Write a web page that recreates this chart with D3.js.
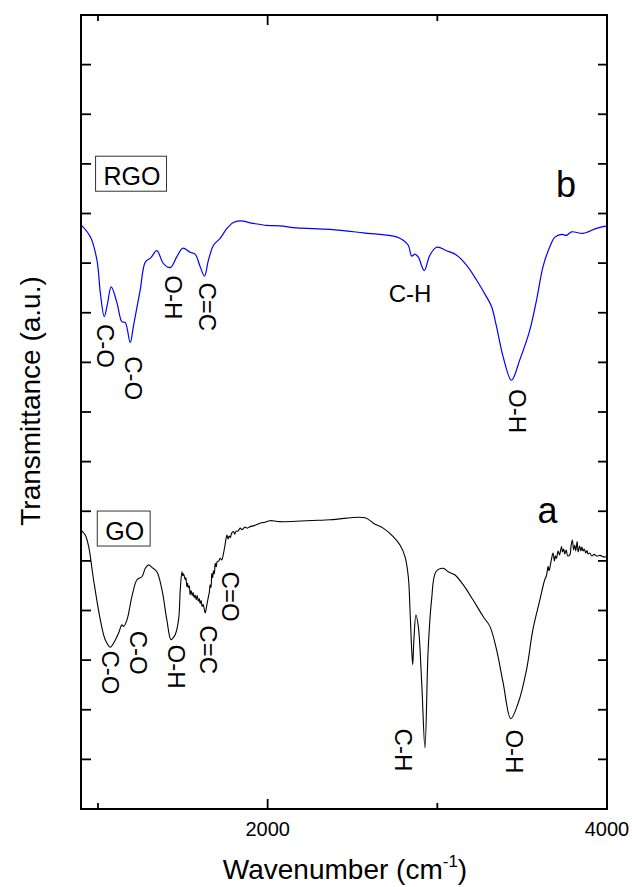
<html>
<head>
    <meta charset="utf-8" />
    <script src="https://cdn.jsdelivr.net/npm/d3@7"></script>
</head>
<style>
    body { margin: 0; background: #fff; }
    svg { font-family: "Liberation Sans", Arial, sans-serif; }
</style>
<body>
<svg id="chart" width="632" height="887"></svg>
<script>
    // spectra: [wavenumber, transmittance (a.u.)]
    var rgoSpectrum = [
        [900, 11.77], [955, 11.53], [994, 11.06], [1014, 10.40], [1037, 9.92], [1055, 10.16],
        [1078, 10.52], [1112, 10.20], [1141, 9.82], [1161, 9.80], [1190, 9.40], [1210, 9.75],
        [1249, 10.46], [1279, 11.02], [1312, 11.11], [1347, 11.25], [1386, 10.99], [1426, 10.91],
        [1465, 11.13], [1500, 11.30], [1543, 11.22], [1573, 11.18], [1602, 10.93], [1628, 10.74],
        [1651, 11.06], [1681, 11.36], [1720, 11.50], [1760, 11.70], [1798, 11.82], [1838, 11.85],
        [1916, 11.80], [1995, 11.76], [2073, 11.75], [2172, 11.71], [2368, 11.68], [2564, 11.61],
        [2760, 11.53], [2799, 11.46], [2829, 11.36], [2849, 11.14], [2868, 11.18], [2888, 11.12],
        [2923, 10.85], [2956, 11.16], [2996, 11.32], [3055, 11.25], [3114, 11.16], [3172, 10.96],
        [3231, 10.66], [3290, 10.32], [3320, 10.12], [3349, 9.72], [3388, 9.11], [3437, 8.64],
        [3486, 9.05], [3545, 9.65], [3585, 10.26], [3623, 10.93], [3663, 11.33], [3692, 11.52],
        [3732, 11.58], [3761, 11.56], [3791, 11.63], [3859, 11.60], [3938, 11.70], [4000, 11.75]
    ];

    var goSpectrum = [
        [900, 5.62], [925, 5.52], [945, 5.29], [974, 4.62], [1014, 3.81], [1043, 3.41],
        [1073, 3.26], [1092, 3.34], [1121, 3.54], [1141, 3.71], [1151, 3.68], [1171, 3.81],
        [1200, 4.28], [1230, 4.62], [1259, 4.68], [1279, 4.85], [1298, 4.92], [1318, 4.87],
        [1347, 4.78], [1377, 4.42], [1406, 3.81], [1430, 3.41], [1443, 3.45], [1455, 3.51],
        [1475, 3.81], [1485, 4.42], [1495, 4.78], [1500, 4.70], [1505, 4.74], [1514, 4.62],
        [1518, 4.66], [1524, 4.48], [1528, 4.55], [1532, 4.46], [1538, 4.50], [1543, 4.32],
        [1549, 4.40], [1555, 4.30], [1561, 4.36], [1567, 4.26], [1573, 4.31], [1579, 4.22],
        [1585, 4.30], [1591, 4.19], [1597, 4.24], [1602, 4.14], [1608, 4.20], [1614, 4.08],
        [1620, 4.12], [1632, 3.95], [1641, 4.10], [1651, 4.28], [1656, 4.36], [1661, 4.52],
        [1666, 4.46], [1671, 4.75], [1676, 4.66], [1681, 4.80], [1686, 4.74], [1691, 4.95],
        [1697, 4.88], [1702, 4.98], [1712, 5.00], [1720, 5.05], [1730, 5.02], [1738, 5.12],
        [1748, 5.30], [1760, 5.52], [1767, 5.44], [1773, 5.50], [1780, 5.47], [1788, 5.56],
        [1798, 5.59], [1806, 5.54], [1814, 5.60], [1826, 5.60], [1838, 5.66], [1850, 5.63],
        [1866, 5.68], [1880, 5.66], [1897, 5.69], [1920, 5.71], [1956, 5.76], [1985, 5.78],
        [2014, 5.81], [2073, 5.79], [2368, 5.83], [2574, 5.87], [2623, 5.76], [2681, 5.66],
        [2740, 5.49], [2780, 5.32], [2809, 5.09], [2829, 4.68], [2839, 4.01], [2849, 3.21],
        [2855, 2.91], [2862, 3.41], [2874, 3.91], [2888, 3.68], [2908, 2.54], [2927, 1.23],
        [2946, 3.21], [2966, 4.21], [2992, 4.78], [3035, 4.85], [3064, 4.78], [3103, 4.72],
        [3152, 4.52], [3211, 4.21], [3270, 3.88], [3310, 3.68], [3349, 3.21], [3388, 2.54],
        [3433, 1.82], [3476, 2.13], [3526, 2.81], [3563, 3.61], [3604, 4.21], [3633, 4.62],
        [3643, 4.70], [3653, 4.89], [3658, 4.80], [3663, 4.86], [3672, 5.02], [3682, 5.16],
        [3690, 5.00], [3696, 5.10], [3702, 5.05], [3712, 5.20], [3720, 5.12], [3732, 5.29],
        [3738, 5.18], [3745, 5.24], [3751, 5.14], [3760, 5.22], [3768, 5.10], [3781, 5.12],
        [3788, 5.30], [3796, 5.42], [3803, 5.22], [3810, 5.32], [3816, 5.20], [3824, 5.39],
        [3830, 5.18], [3839, 5.30], [3846, 5.20], [3852, 5.28], [3859, 5.20], [3866, 5.24],
        [3875, 5.16], [3882, 5.21], [3888, 5.14], [3898, 5.16], [3910, 5.10], [3925, 5.13],
        [3938, 5.10], [3960, 5.11], [3980, 5.08], [4000, 5.08]
    ];

    // peak assignments: [text, wavenumber, level, vertical?]
    var rgoPeaks = [
        ["C-O", 1043, 9.33, true], ["C-O", 1208, 8.68, true], ["O-H", 1443, 10.31, true],
        ["C=C", 1644, 10.12, true], ["C-H", 2839, 10.38, false], ["O-H", 3474, 8.02, true]
    ];
    var goPeaks = [
        ["C-O", 1073, 2.75, true], ["C-O", 1237, 3.15, true], ["O-H", 1461, 2.87, true],
        ["C=C", 1649, 3.21, true], ["C=O", 1779, 4.28, true], ["C-H", 2803, 1.19, true],
        ["O-H", 3457, 1.16, true]
    ];

    // sample names and curve letters: [text, wavenumber, level]
    var sampleNames = [["RGO", 1033, 12.57], ["GO", 1043, 5.42]];
    var curveLetters = [["b", 3759, 12.34], ["a", 3649, 5.77]];

    var xTicksMajor = [2000, 4000];
    var xTicksMinor = [1000, 3000];
    var yTicks = d3.range(1, 16);

    var svg = d3.select("#chart");
    var mLeft = 81, mRight = 607, mTop = 15, mBottom = 809;

    var x = d3.scaleLinear().domain([900, 4000]).range([mLeft, mRight]);
    var y = d3.scaleLinear().domain([0, 16]).range([mBottom, mTop]);

    var smooth = d3.line()
        .curve(d3.curveCatmullRom.alpha(0.5))
        .x(function(d) { return x(d[0]); })
        .y(function(d) { return y(d[1]); });

    svg.append("path").datum(goSpectrum)
        .attr("d", smooth)
        .attr("fill", "none")
        .attr("stroke", "#000")
        .attr("stroke-width", 1.1);

    svg.append("path").datum(rgoSpectrum)
        .attr("d", smooth)
        .attr("fill", "none")
        .attr("stroke", "#0000ff")
        .attr("stroke-width", 1.2);

    // ticks, all pointing inside the frame
    var ticks = svg.append("g").attr("stroke", "#000").attr("stroke-width", 1.8);
    yTicks.forEach(function(t) {
        ticks.append("line").attr("x1", mLeft).attr("x2", mLeft + 10).attr("y1", y(t)).attr("y2", y(t));
        ticks.append("line").attr("x1", mRight).attr("x2", mRight - 9).attr("y1", y(t)).attr("y2", y(t));
    });
    xTicksMajor.concat(xTicksMinor).forEach(function(t) {
        var len = xTicksMajor.indexOf(t) >= 0 ? 10 : 6;
        ticks.append("line").attr("x1", x(t)).attr("x2", x(t)).attr("y1", mBottom).attr("y2", mBottom - len);
        ticks.append("line").attr("x1", x(t)).attr("x2", x(t)).attr("y1", mTop).attr("y2", mTop + len);
    });

    svg.append("rect")
        .attr("x", mLeft).attr("y", mTop)
        .attr("width", mRight - mLeft).attr("height", mBottom - mTop)
        .attr("fill", "none")
        .attr("stroke", "#000")
        .attr("stroke-width", 2);

    svg.selectAll("text.xtick")
        .data(xTicksMajor)
        .enter().append("text")
        .classed("xtick", true)
        .attr("x", function(d) { return x(d); })
        .attr("y", 836)
        .attr("text-anchor", "middle")
        .attr("font-size", 20)
        .text(function(d) { return d; });

    var xt = svg.append("text")
        .attr("x", 345).attr("y", 879)
        .attr("text-anchor", "middle")
        .attr("font-size", 28);
    xt.append("tspan").text("Wavenumber (cm");
    xt.append("tspan").attr("font-size", 17).attr("dy", -12).text("-1");
    xt.append("tspan").attr("dy", 12).text(")");

    svg.append("text")
        .attr("transform", "translate(40,401) rotate(-90)")
        .attr("text-anchor", "middle")
        .attr("font-size", 28)
        .text("Transmittance (a.u.)");

    function drawPeaks(list) {
        list.forEach(function(p) {
            var t = svg.append("text")
                .attr("text-anchor", "middle")
                .attr("dominant-baseline", "central")
                .attr("font-size", 24)
                .text(p[0]);
            if (p[3]) {
                t.attr("transform", "translate(" + x(p[1]) + "," + y(p[2]) + ") rotate(90)");
            } else {
                t.attr("x", x(p[1])).attr("y", y(p[2]));
            }
        });
    }
    drawPeaks(rgoPeaks);
    drawPeaks(goPeaks);

    sampleNames.forEach(function(s) {
        var t = svg.append("text")
            .attr("x", x(s[1])).attr("y", y(s[2]))
            .attr("font-size", 25)
            .text(s[0]);
        var b = t.node().getBBox();
        svg.insert("rect", "text")
            .attr("x", b.x - 8).attr("y", b.y - 6)
            .attr("width", b.width + 14).attr("height", b.height + 7)
            .attr("fill", "#fff")
            .attr("stroke", "#333")
            .attr("stroke-width", 1);
    });

    svg.selectAll("text.letter")
        .data(curveLetters)
        .enter().append("text")
        .classed("letter", true)
        .attr("x", function(d) { return x(d[1]); })
        .attr("y", function(d) { return y(d[2]); })
        .attr("text-anchor", "middle")
        .attr("font-size", 36)
        .text(function(d) { return d[0]; });
</script>
</body>
</html>
